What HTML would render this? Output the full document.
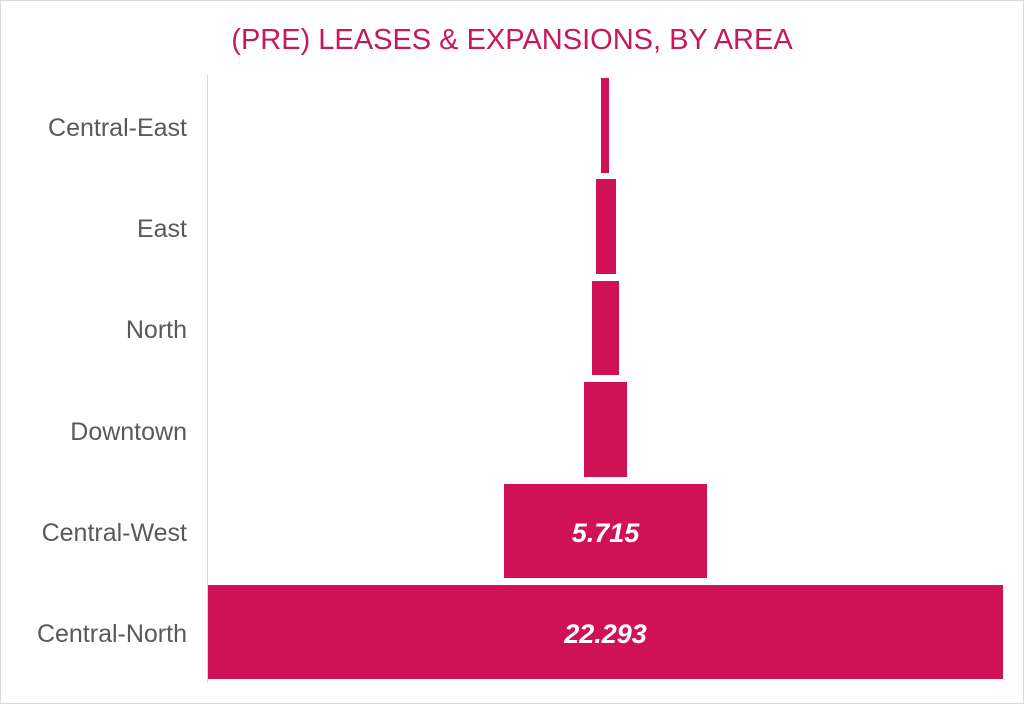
<!DOCTYPE html>
<html><head><style>
body{margin:0;width:1024px;height:704px;background:#fff;overflow:hidden;font-family:"Liberation Sans",sans-serif;}
.frame{position:absolute;left:0;top:0;width:1022px;height:702px;border:1px solid #d9d9d9;}
.t{position:absolute;left:0;width:1024px;top:24px;text-align:center;color:#c8175d;font-size:29px;}
.b{position:absolute;background:#d11155;}
.l{position:absolute;right:837px;color:#595959;font-size:25px;text-align:right;white-space:nowrap;}
.v{position:absolute;color:#fff;font-weight:bold;font-style:italic;font-size:27px;text-align:center;}
.ax{position:absolute;left:207px;top:75px;width:1px;height:608px;background:#d9d9d9;}
</style></head><body>
<div class="frame"></div>
<div class="t">(PRE) LEASES &amp; EXPANSIONS, BY AREA</div>
<div class="ax"></div>
<div class="b" style="left:601px;top:78px;width:8px;height:95px"></div>
<div class="b" style="left:596px;top:179px;width:20px;height:95px"></div>
<div class="b" style="left:592px;top:281px;width:27px;height:94px"></div>
<div class="b" style="left:584px;top:382px;width:43px;height:95px"></div>
<div class="b" style="left:504px;top:484px;width:203px;height:94px"></div>
<div class="b" style="left:208px;top:585px;width:795px;height:94px"></div>
<div class="v" style="left:504px;width:203px;top:518px">5.715</div>
<div class="v" style="left:208px;width:795px;top:619px">22.293</div>
<div class="l" style="top:114px">Central-East</div>
<div class="l" style="top:215px">East</div>
<div class="l" style="top:316px">North</div>
<div class="l" style="top:418px">Downtown</div>
<div class="l" style="top:519px">Central-West</div>
<div class="l" style="top:620px">Central-North</div>
</body></html>
